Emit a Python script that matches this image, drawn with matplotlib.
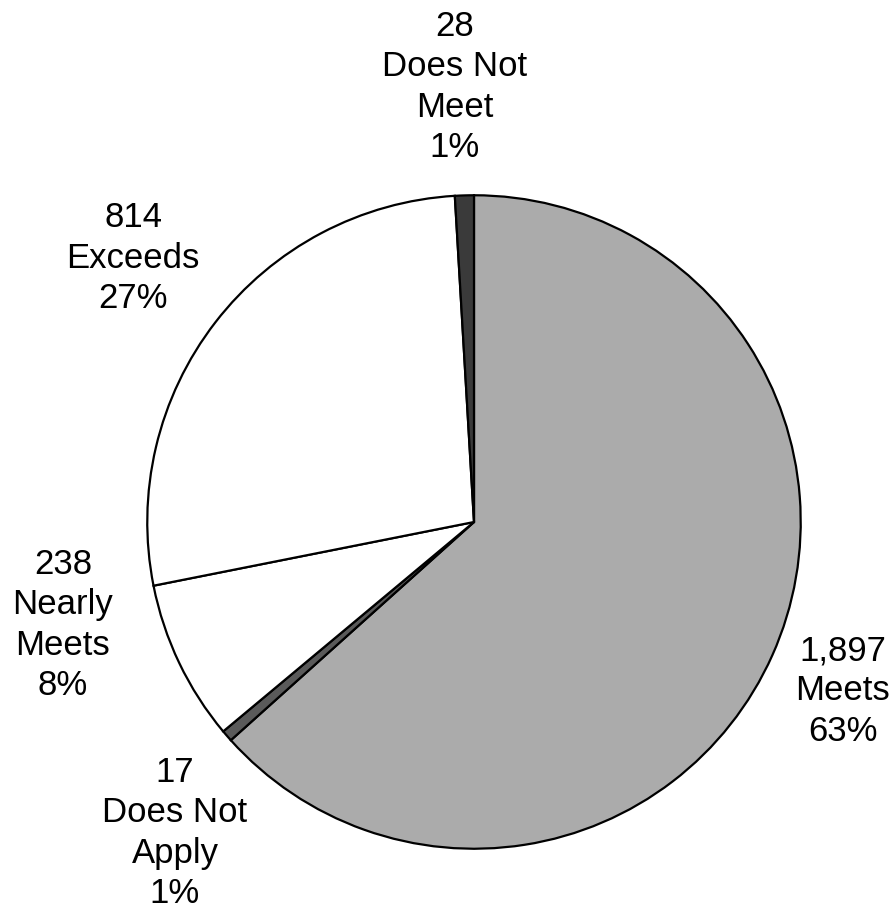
import matplotlib
matplotlib.use('Agg')
import matplotlib.pyplot as plt

categories = ['Meets', 'Does Not\nApply', 'Nearly\nMeets', 'Exceeds', 'Does Not\nMeet']
counts = [1897, 17, 238, 814, 28]
count_labels = ['1,897', '17', '238', '814', '28']
colors = ['#ababab', '#5a5a5a', '#ffffff', '#ffffff', '#3a3a3a']

# label centres in pixels (x, y from top) for the outside callouts
label_px = [(843, 691), (175, 833), (63, 625), (133, 258), (455, 87)]

W, H = 892, 914


def main():
  plt.rcParams['font.family'] = ['Liberation Sans', 'DejaVu Sans']
  fig = plt.figure(figsize=(W / 100, H / 100), dpi=100)
  fig.patch.set_facecolor('white')

  # pie centred at about (474, 522) px, radius 330 px
  cx, cy, r = 474, 522, 330
  ax = fig.add_axes([(cx - r) / W, (H - cy - r) / H, 2 * r / W, 2 * r / H])
  ax.pie(counts, colors=colors, startangle=90, counterclock=False,
         radius=1,
         wedgeprops={'edgecolor': 'black', 'linewidth': 1.6})
  ax.set_xlim(-1.01, 1.01)
  ax.set_ylim(-1.01, 1.01)
  ax.axis('off')

  total = float(sum(counts))
  for cat, lab, n, (x, y) in zip(categories, count_labels, counts, label_px):
    pct = round(100 * n / total)
    text = '%s\n%s\n%d%%' % (lab, cat, max(pct, 1))
    fig.text(x / W, 1 - y / H, text, ha='center', va='center',
             fontsize=25, linespacing=1.28, color='black')

  fig.savefig('out.png', dpi=100, facecolor='white')


if __name__ == '__main__':
  main()
